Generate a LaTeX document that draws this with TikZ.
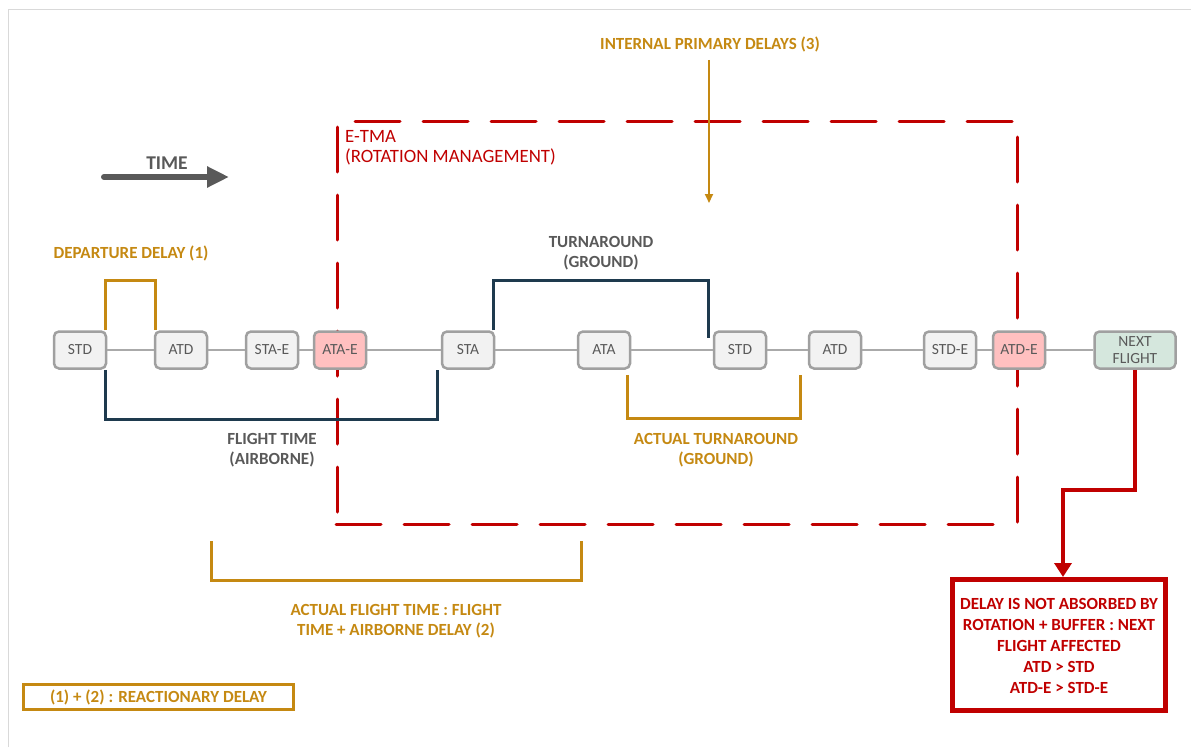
\documentclass[tikz,border=0pt]{standalone}
\usepackage{fontspec}
\setmainfont{Carlito}
\usetikzlibrary{arrows.meta,calc}

\definecolor{gold}{RGB}{197,137,18}
\definecolor{navy}{RGB}{30,58,78}
\definecolor{darkred}{RGB}{192,0,0}
\definecolor{txtgray}{RGB}{89,89,89}
\definecolor{boxgray}{RGB}{160,160,160}
\definecolor{boxfill}{RGB}{242,242,242}
\definecolor{pinkfill}{RGB}{255,192,192}
\definecolor{greenfill}{RGB}{213,231,221}
\definecolor{framegray}{RGB}{217,217,217}

\tikzset{
  event/.style={draw=boxgray, fill=boxfill, line width=2.5pt, rounded corners=5pt,
    minimum width=52pt, minimum height=37pt, inner sep=1pt,
    text=txtgray, font=\fontsize{15.5}{17}\selectfont, align=center},
  estimated/.style={event, fill=pinkfill},
  nextbox/.style={event, fill=greenfill, minimum width=81pt},
  timeline/.style={draw=boxgray!90, line width=1.5pt},
  navybracket/.style={draw=navy, line width=3pt},
  goldbracket/.style={draw=gold, line width=3pt},
  goldlabel/.style={text=gold, font=\fontsize{17}{20.5}\selectfont\bfseries, align=center, inner sep=0pt},
  graylabel/.style={text=txtgray, font=\fontsize{17}{20.5}\selectfont\bfseries, align=center, inner sep=0pt},
  redlabel/.style={text=darkred, font=\fontsize{17}{20.8}\selectfont\bfseries, align=center, inner sep=0pt},
  zoneline/.style={draw=darkred, line width=3pt, line cap=round, dash pattern=on 45pt off 23pt},
}

\begin{document}
\begin{tikzpicture}[x=1pt,y=-1pt]
\useasboundingbox (0,0) rectangle (1191,747);

% sheet frame
\draw[framegray, line width=1pt] (8,747) -- (8,9) -- (1191,9);

% time arrow
\node[graylabel, font=\fontsize{19.5}{20}\selectfont\bfseries] (timelbl) at (167,163) {TIME};
\coordinate (timeA) at (104,177);
\coordinate (timeB) at (229,177);
\draw[txtgray, line width=6pt, line cap=round, -{Triangle[length=22pt,width=20pt]}] (timeA) -- (timeB);

% E-TMA zone (drawn first so the event boxes sit on top)
\draw[zoneline] (355,121) -- (1015,121);
\draw[zoneline] (1017,137) -- (1017,527);
\draw[zoneline] (336,524) -- (995,524);
\draw[zoneline] (337,127) -- (337,512);
\node[text=darkred, font=\fontsize{18.8}{20}\selectfont, align=left, anchor=west, inner sep=0pt]
  (etma) at (345,148) {E-TMA\\(ROTATION MANAGEMENT)};

% events along the rotation
\node[event]     (std1)  at (80,350)   {STD};
\node[event]     (atd1)  at (181,350)  {ATD};
\node[event]     (stae)  at (272,350)  {STA-E};
\node[estimated] (atae)  at (340,350)  {ATA-E};
\node[event]     (sta)   at (468,350)  {STA};
\node[event]     (ata)   at (604,350)  {ATA};
\node[event]     (std2)  at (740,350)  {STD};
\node[event]     (atd2)  at (835,350)  {ATD};
\node[event]     (stde)  at (950,350)  {STD-E};
\node[estimated] (atde)  at (1019,350) {ATD-E};
\node[nextbox]   (next)  at (1135,350) {NEXT\\FLIGHT};

\foreach \a/\b in {std1/atd1, atd1/stae, stae/atae, atae/sta, sta/ata, ata/std2, std2/atd2, atd2/stde, stde/atde, atde/next}
  \draw[timeline] (\a.east) -- (\b.west);

% internal primary delays
\node[goldlabel] (ipd) at (710,44) {INTERNAL PRIMARY DELAYS (3)};
\coordinate (ipdEnd) at (709,203);
\draw[gold, line width=2pt, -{Triangle[length=9pt,width=8pt]}] (ipd.south -| ipdEnd) ++(0,8) -- (ipdEnd);

% departure delay bracket
\node[goldlabel] (deplbl) at (131,253) {DEPARTURE DELAY (1)};
\draw[goldbracket] ($(std1.north east)+(-2,0)$) -- ++(0,-50) -| ($(atd1.north west)+(2,0)$);

% flight time bracket
\draw[navybracket] ($(std1.south east)+(-2,0)$) -- ++(0,50) -| ($(sta.south west)+(-3,0)$);
\node[graylabel] (ftlbl) at (272,450) {FLIGHT TIME\\(AIRBORNE)};

% turnaround bracket
\node[graylabel] (talbl) at (601,253) {TURNAROUND\\(GROUND)};
\draw[navybracket] ($(sta.north east)+(-2,0)$) -- ++(0,-50) -| ($(std2.north west)+(-4,8)$);

% actual turnaround bracket
\draw[goldbracket] ($(ata.south east)+(-4,5)$) -- ++(0,44) -| ($(atd2.south west)+(-7,5)$);
\node[goldlabel] (atlbl) at (716,450) {ACTUAL TURNAROUND\\(GROUND)};

% actual flight time bracket
\coordinate (aftL) at (211,541);
\coordinate (aftR) at (581,541);
\draw[goldbracket] (aftL) -- ++(0,39) -| (aftR);
\node[goldlabel] (aftlbl) at (396,621) {ACTUAL FLIGHT TIME : FLIGHT\\TIME + AIRBORNE DELAY (2)};

% consequence box
\node[draw=darkred, line width=5pt, minimum width=213pt, minimum height=131pt, inner sep=0pt]
  (result) at (1059,645) {};
\node[redlabel] (resulttxt) at (1059,646)
  {DELAY IS NOT ABSORBED BY\\ROTATION + BUFFER : NEXT\\FLIGHT AFFECTED\\ATD > STD\\ATD-E > STD-E};
\coordinate (bend) at (1063,490);
\draw[darkred, line width=4pt, -{Triangle[length=14pt,width=17pt]}]
  (next.south) -- (next.south |- bend) -- (bend) -- (bend |- result.north);

% legend
\node[draw=gold, line width=3pt, minimum width=270pt, minimum height=25pt, inner sep=0pt,
  text=gold, font=\fontsize{17}{20}\selectfont\bfseries] (legend) at (158.5,697)
  {(1) + (2) : REACTIONARY DELAY};
\end{tikzpicture}
\end{document}
